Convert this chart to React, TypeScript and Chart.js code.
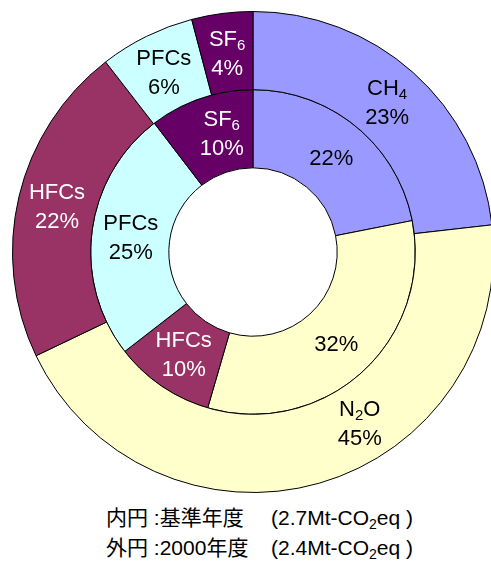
import React, { useEffect, useRef } from 'react';
import { Chart, registerables } from 'chart.js';

Chart.register(...registerables);

const categories = ['CH4', 'N2O', 'HFCs', 'PFCs', 'SF6'];
// outer ring: 2000, inner ring: base year
const outerValues = [23.2, 44.7, 21.6, 6.4, 4.1];
const innerValues = [21.9, 32.6, 10.0, 25.1, 10.4];
const outerPctLabels = ['23%', '45%', '22%', '6%', '4%'];
const innerPctLabels = ['22%', '32%', '10%', '25%', '10%'];
const outerShowName = [true, true, true, true, true];
const innerShowName = [false, false, true, true, true];
const colors = ['#9999FF', '#FFFFCC', '#993366', '#CCFFFF', '#660066'];
const textColors = ['#000000', '#000000', '#FFFFFF', '#000000', '#FFFFFF'];

const innerCaption = { label: '内円 :基準年度', total: '2.7' };
const outerCaption = { label: '外円 :2000年度', total: '2.4' };

const FONT = '"Liberation Sans", Arial, sans-serif';
const SIZE = 22;

function drawText(ctx: CanvasRenderingContext2D, text: string, cx: number, baseline: number, formula: boolean) {
  const parts = formula
    ? text.split(/(\d+)/).filter((s) => s.length > 0).map((t) => ({ t, sub: /^\d+$/.test(t) }))
    : [{ t: text, sub: false }];
  const subSize = Math.round(SIZE * 0.66);
  let total = 0;
  const widths = parts.map((p) => {
    ctx.font = `${p.sub ? subSize : SIZE}px ${FONT}`;
    const w = ctx.measureText(p.t).width;
    total += w;
    return w;
  });
  let x = cx - total / 2;
  ctx.textAlign = 'left';
  ctx.textBaseline = 'alphabetic';
  parts.forEach((p, k) => {
    ctx.font = `${p.sub ? subSize : SIZE}px ${FONT}`;
    ctx.fillText(p.t, x, p.sub ? baseline + 4 : baseline);
    x += widths[k];
  });
}

const labelPlugin = {
  id: 'ringLabels',
  afterDatasetsDraw(chart: any) {
    const ctx: CanvasRenderingContext2D = chart.ctx;
    ctx.save();
    chart.data.datasets.forEach((_ds: any, di: number) => {
      const meta = chart.getDatasetMeta(di);
      const pcts = di === 0 ? outerPctLabels : innerPctLabels;
      const show = di === 0 ? outerShowName : innerShowName;
      meta.data.forEach((arc: any, i: number) => {
        const p = arc.getProps(['x', 'y', 'startAngle', 'endAngle', 'innerRadius', 'outerRadius'], true);
        let shift = 0;
        if (di === 0 && i === 1) shift = (-16 * Math.PI) / 180;
        if (di === 1 && i === 4) shift = (4 * Math.PI) / 180;
        const a = (p.startAngle + p.endAngle) / 2 + shift;
        const r = (p.innerRadius + p.outerRadius) / 2;
        const x = p.x + r * Math.cos(a);
        const y = p.y + r * Math.sin(a);
        ctx.fillStyle = textColors[i];
        const capHalf = SIZE * 0.36;
        if (show[i]) {
          drawText(ctx, categories[i], x, y - 14.5 + capHalf, true);
          drawText(ctx, pcts[i], x, y + 14.5 + capHalf, false);
        } else {
          drawText(ctx, pcts[i], x, y + capHalf, false);
        }
      });
    });
    ctx.restore();
  },
};

function Caption({ top, label, total }: { top: number; label: string; total: string }) {
  const base: React.CSSProperties = {
    position: 'absolute',
    top,
    height: 30,
    lineHeight: '30px',
    fontSize: 21,
    fontFamily: '"Liberation Sans", "Noto Sans CJK JP", Arial, sans-serif',
    color: '#000',
    whiteSpace: 'nowrap',
  };
  return (
    <>
      <div style={{ ...base, left: 106 }}>{label}</div>
      <div style={{ ...base, left: 271 }}>
        ({total}Mt-CO
        <span style={{ fontSize: 14, position: 'relative', top: 4 }}>2</span>
        eq )
      </div>
    </>
  );
}

export default function App() {
  const ref = useRef<HTMLCanvasElement | null>(null);
  useEffect(() => {
    if (!ref.current) return;
    const chart = new Chart(ref.current, {
      type: 'doughnut',
      data: {
        labels: categories,
        datasets: [
          {
            data: outerValues,
            backgroundColor: colors,
            borderColor: '#000000',
            borderWidth: 1,
            hoverOffset: 0,
          },
          {
            data: innerValues,
            backgroundColor: colors,
            borderColor: '#000000',
            borderWidth: 1,
            hoverOffset: 0,
          },
        ],
      },
      options: {
        responsive: false,
        animation: false,
        cutout: '35%',
        layout: { padding: 0 },
        plugins: {
          legend: { display: false },
          tooltip: { enabled: false },
        },
        events: [],
      },
      plugins: [labelPlugin],
    });
    return () => chart.destroy();
  }, []);

  return (
    <div style={{ position: 'fixed', left: 0, top: 0, width: 491, height: 563, overflow: 'hidden', background: '#fff' }}>
      <canvas ref={ref} width={482} height={482} style={{ position: 'absolute', left: 12, top: 11, width: 482, height: 482 }} />
      <Caption top={503} label={innerCaption.label} total={innerCaption.total} />
      <Caption top={533} label={outerCaption.label} total={outerCaption.total} />
    </div>
  );
}
